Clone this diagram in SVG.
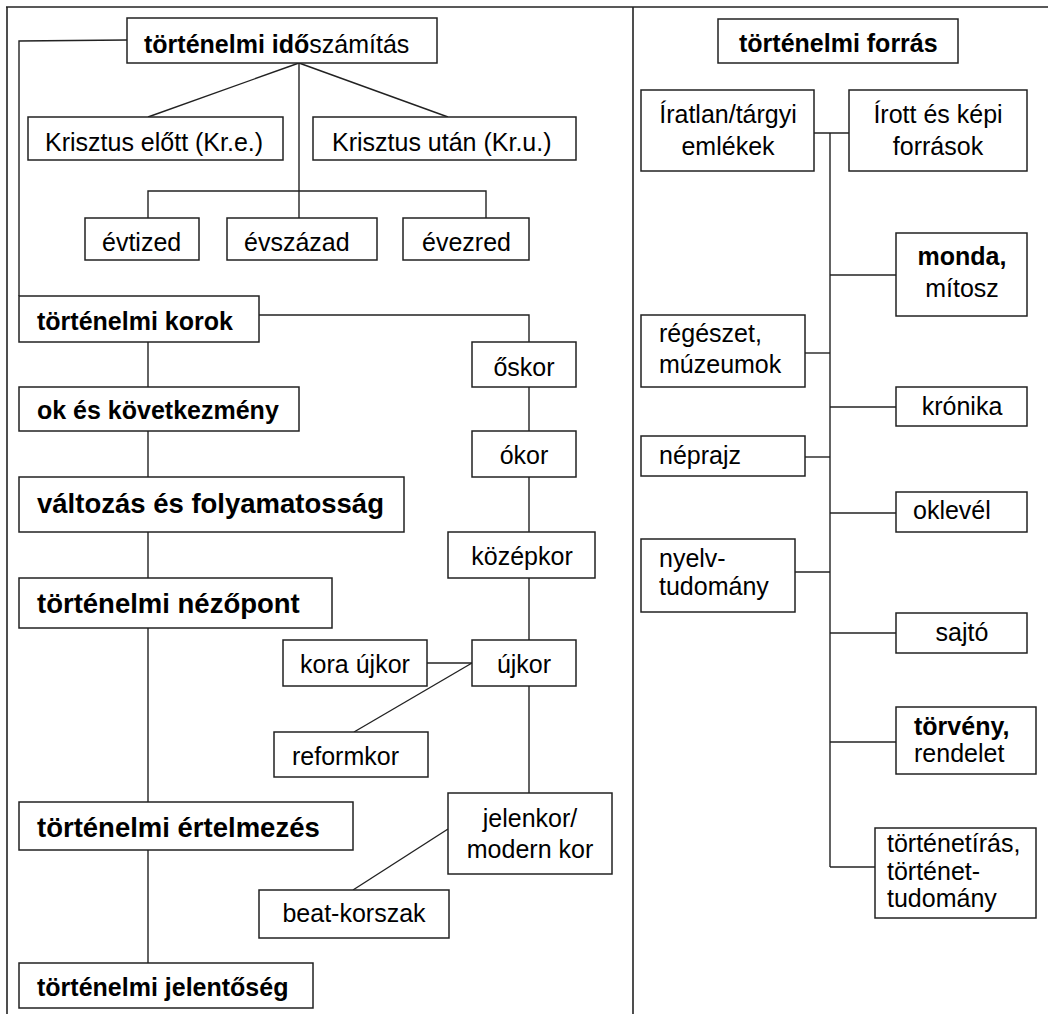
<svg xmlns="http://www.w3.org/2000/svg" width="1048" height="1014" viewBox="0 0 1048 1014">
<style>
  .box{fill:#fff;stroke:#222;stroke-width:1.5}
  .ln{fill:none;stroke:#222;stroke-width:1.4}
  .frame{fill:none;stroke:#222;stroke-width:1.6}
  text{font-family:"Liberation Sans",Arial,sans-serif;font-size:25px;fill:#000}
  .b{font-weight:bold}
  .big{font-size:27.5px}
  .c{text-anchor:middle}
</style>
<rect width="1048" height="1014" fill="#fff"/>
<g id="frame">
  <line class="frame" x1="6" y1="7" x2="1048" y2="7"/>
  <line class="frame" x1="7" y1="7" x2="7" y2="1014"/>
  <line class="frame" x1="633" y1="7" x2="633" y2="1014"/>
</g>
<g id="connectors">
  <polyline class="ln" points="127,40 19,41 19,296"/>
  <line class="ln" x1="299" y1="63" x2="148" y2="117"/>
  <line class="ln" x1="299" y1="63" x2="448" y2="117"/>
  <line class="ln" x1="299" y1="63" x2="299" y2="218"/>
  <polyline class="ln" points="148,218 148,191 486,191 486,218"/>
  <line class="ln" x1="148" y1="342" x2="148" y2="963"/>
  <polyline class="ln" points="259,315 529,315 529,793"/>
  <line class="ln" x1="427" y1="663" x2="472" y2="663"/>
  <line class="ln" x1="472" y1="663" x2="354" y2="732"/>
  <line class="ln" x1="448" y1="829" x2="353" y2="890"/>
  <line class="ln" x1="814" y1="133" x2="849" y2="133"/>
  <line class="ln" x1="830" y1="133" x2="830" y2="867"/>
  <line class="ln" x1="830" y1="275" x2="896" y2="275"/>
  <line class="ln" x1="805" y1="353" x2="830" y2="353"/>
  <line class="ln" x1="830" y1="407" x2="896" y2="407"/>
  <line class="ln" x1="805" y1="457" x2="830" y2="457"/>
  <line class="ln" x1="830" y1="513" x2="896" y2="513"/>
  <line class="ln" x1="795" y1="572" x2="830" y2="572"/>
  <line class="ln" x1="830" y1="633" x2="896" y2="633"/>
  <line class="ln" x1="830" y1="742" x2="896" y2="742"/>
  <line class="ln" x1="830" y1="867" x2="875" y2="867"/>
</g>
<g id="idoszamitas"><rect class="box" x="127" y="18" width="310" height="45"/><text x="144" y="53"><tspan class="b">történelmi idő</tspan>számítás</text></g>
<g id="kre"><rect class="box" x="28" y="117" width="255" height="43"/><text x="45" y="151">Krisztus előtt (Kr.e.)</text></g>
<g id="kru"><rect class="box" x="313" y="117" width="263" height="43"/><text x="332" y="151">Krisztus után (Kr.u.)</text></g>
<g id="evtized"><rect class="box" x="85" y="218" width="114" height="42"/><text x="102" y="251">évtized</text></g>
<g id="evszazad"><rect class="box" x="227" y="218" width="150" height="42"/><text x="244" y="251">évszázad</text></g>
<g id="evezred"><rect class="box" x="403" y="218" width="126" height="42"/><text x="422" y="251">évezred</text></g>
<g id="korok"><rect class="box" x="19" y="296" width="240" height="46"/><text class="b" x="37" y="330">történelmi korok</text></g>
<g id="okes"><rect class="box" x="19" y="387" width="280" height="44"/><text class="b" x="37" y="419">ok és következmény</text></g>
<g id="valtozas"><rect class="box" x="19" y="477" width="385" height="55"/><text class="b big" x="37" y="513">változás és folyamatosság</text></g>
<g id="nezopont"><rect class="box" x="19" y="578" width="313" height="50"/><text class="b big" x="37" y="613">történelmi nézőpont</text></g>
<g id="ertelmezes"><rect class="box" x="19" y="802" width="334" height="48"/><text class="b big" x="37" y="837">történelmi értelmezés</text></g>
<g id="jelentoseg"><rect class="box" x="19" y="963" width="294" height="45"/><text class="b" x="37" y="996">történelmi jelentőség</text></g>
<g id="oskor"><rect class="box" x="472" y="342" width="104" height="45"/><text class="c" x="524" y="376">őskor</text></g>
<g id="okor"><rect class="box" x="472" y="431" width="104" height="46"/><text class="c" x="524" y="464">ókor</text></g>
<g id="kozepkor"><rect class="box" x="448" y="532" width="147" height="46"/><text class="c" x="522" y="565">középkor</text></g>
<g id="ujkor"><rect class="box" x="472" y="640" width="104" height="46"/><text class="c" x="524" y="673">újkor</text></g>
<g id="koraujkor"><rect class="box" x="283" y="640" width="144" height="46"/><text class="c" x="355" y="673">kora újkor</text></g>
<g id="reformkor"><rect class="box" x="274" y="732" width="154" height="45"/><text x="292" y="765">reformkor</text></g>
<g id="jelenkor"><rect class="box" x="448" y="793" width="164" height="81"/><text class="c" x="530" y="827">jelenkor/</text><text class="c" x="530" y="858">modern kor</text></g>
<g id="beat"><rect class="box" x="259" y="890" width="190" height="48"/><text class="c" x="354" y="922">beat-korszak</text></g>
<g id="forras"><rect class="box" x="718" y="19" width="240" height="44"/><text class="b" x="739" y="52">történelmi forrás</text></g>
<g id="iratlan"><rect class="box" x="641" y="90" width="173" height="81"/><text class="c" x="728" y="123">Íratlan/tárgyi</text><text class="c" x="728" y="155">emlékek</text></g>
<g id="irott"><rect class="box" x="849" y="90" width="178" height="81"/><text class="c" x="938" y="123">Írott és képi</text><text class="c" x="938" y="155">források</text></g>
<g id="monda"><rect class="box" x="896" y="233" width="131" height="83"/><text class="c b" x="962" y="265">monda,</text><text class="c" x="962" y="297">mítosz</text></g>
<g id="regeszet"><rect class="box" x="641" y="315" width="164" height="72"/><text x="659" y="342">régészet,</text><text x="659" y="373">múzeumok</text></g>
<g id="kronika"><rect class="box" x="896" y="387" width="131" height="39"/><text class="c" x="962" y="415">krónika</text></g>
<g id="neprajz"><rect class="box" x="641" y="436" width="164" height="40"/><text x="659" y="464">néprajz</text></g>
<g id="oklevel"><rect class="box" x="896" y="492" width="131" height="40"/><text x="913" y="519">oklevél</text></g>
<g id="nyelv"><rect class="box" x="641" y="539" width="154" height="73"/><text x="659" y="567">nyelv-</text><text x="659" y="595">tudomány</text></g>
<g id="sajto"><rect class="box" x="896" y="613" width="131" height="40"/><text class="c" x="962" y="641">sajtó</text></g>
<g id="torveny"><rect class="box" x="896" y="707" width="140" height="67"/><text x="914" y="735"><tspan class="b">törvény,</tspan></text><text x="914" y="762">rendelet</text></g>
<g id="tortenetiras"><rect class="box" x="875" y="828" width="161" height="90"/><text x="887" y="852">történetírás,</text><text x="887" y="880">történet-</text><text x="887" y="907">tudomány</text></g>
</svg>
